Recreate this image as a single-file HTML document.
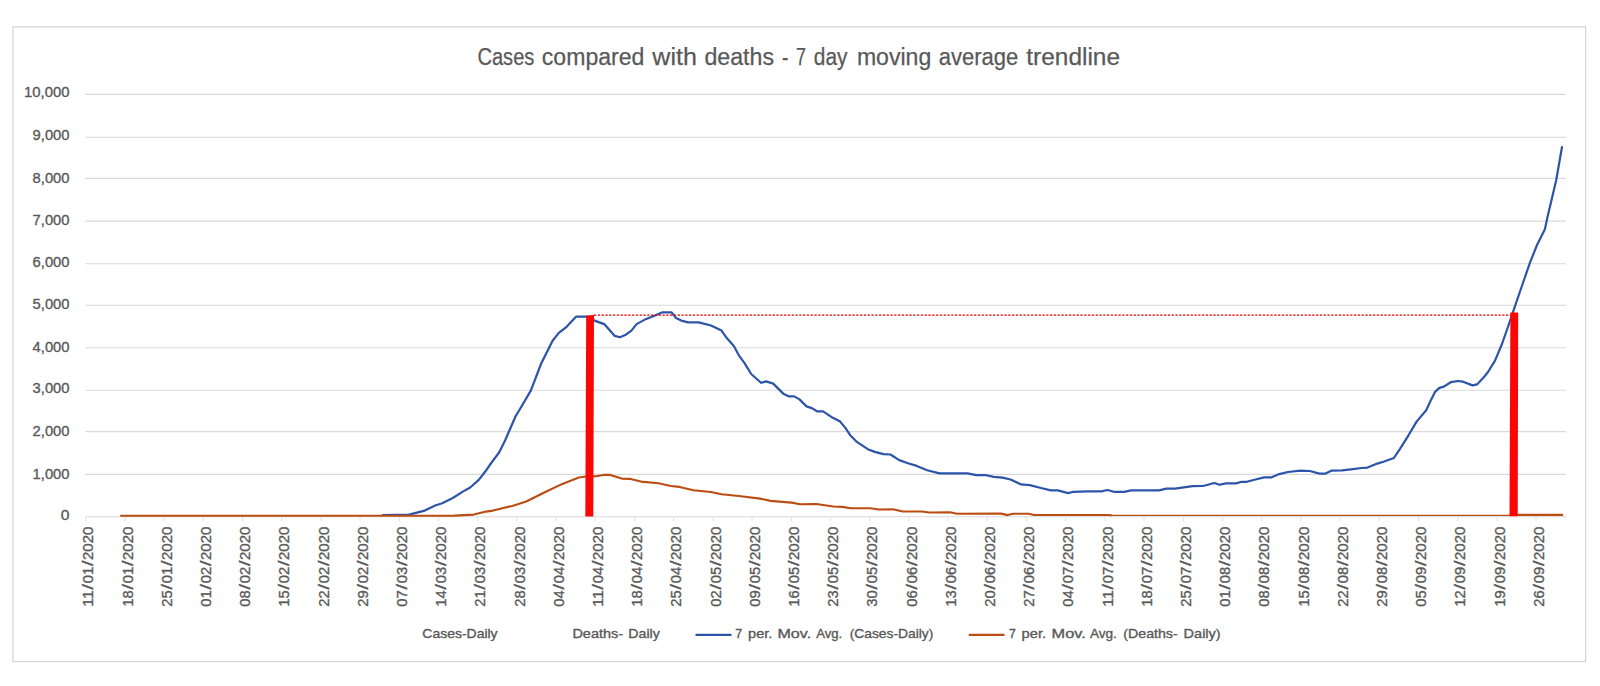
<!DOCTYPE html>
<html lang="en"><head><meta charset="utf-8"><title>Cases compared with deaths - 7 day moving average trendline</title>
<style>
html,body{margin:0;padding:0;background:#fff;}
body{width:1600px;height:686px;overflow:hidden;position:relative;}
svg{display:block;position:absolute;left:0;top:0;}
text{font-family:"Liberation Sans",sans-serif;fill:#595959;stroke:#595959;stroke-width:0.25px;}
.ax{font-size:15.2px;stroke-width:0.35px;}
.lg{font-size:13px;stroke-width:0.35px;}
.xl{font-size:15.2px;stroke-width:0.35px;}
.ttl{font-size:23px;}
</style></head><body>
<svg width="1600" height="686" viewBox="0 0 1600 686">
<rect x="0" y="0" width="1600" height="686" fill="#ffffff"/>
<rect x="12.9" y="26.9" width="1572.7" height="634.6" fill="#ffffff" stroke="#d6d6d6" stroke-width="1.25"/>

<g stroke="#d9d9d9" stroke-width="1.1" fill="none">
<line x1="85.3" y1="474.4" x2="1565.9" y2="474.4"/>
<line x1="85.3" y1="431.6" x2="1565.9" y2="431.6"/>
<line x1="85.3" y1="390.2" x2="1565.9" y2="390.2"/>
<line x1="85.3" y1="347.7" x2="1565.9" y2="347.7"/>
<line x1="85.3" y1="305.3" x2="1565.9" y2="305.3"/>
<line x1="85.3" y1="263.7" x2="1565.9" y2="263.7"/>
<line x1="85.3" y1="221.1" x2="1565.9" y2="221.1"/>
<line x1="85.3" y1="178.4" x2="1565.9" y2="178.4"/>
<line x1="85.3" y1="137.2" x2="1565.9" y2="137.2"/>
<line x1="85.3" y1="94.4" x2="1565.9" y2="94.4"/>
<line x1="85.7" y1="516.8" x2="1565.9" y2="516.8"/>
<line x1="85.7" y1="516.8" x2="85.7" y2="521.3" stroke="#e3e3e3"/>
<line x1="124.9" y1="516.8" x2="124.9" y2="521.3" stroke="#e3e3e3"/>
<line x1="164.1" y1="516.8" x2="164.1" y2="521.3" stroke="#e3e3e3"/>
<line x1="203.3" y1="516.8" x2="203.3" y2="521.3" stroke="#e3e3e3"/>
<line x1="242.5" y1="516.8" x2="242.5" y2="521.3" stroke="#e3e3e3"/>
<line x1="281.7" y1="516.8" x2="281.7" y2="521.3" stroke="#e3e3e3"/>
<line x1="320.9" y1="516.8" x2="320.9" y2="521.3" stroke="#e3e3e3"/>
<line x1="360.1" y1="516.8" x2="360.1" y2="521.3" stroke="#e3e3e3"/>
<line x1="399.3" y1="516.8" x2="399.3" y2="521.3" stroke="#e3e3e3"/>
<line x1="438.5" y1="516.8" x2="438.5" y2="521.3" stroke="#e3e3e3"/>
<line x1="477.7" y1="516.8" x2="477.7" y2="521.3" stroke="#e3e3e3"/>
<line x1="516.9" y1="516.8" x2="516.9" y2="521.3" stroke="#e3e3e3"/>
<line x1="556.1" y1="516.8" x2="556.1" y2="521.3" stroke="#e3e3e3"/>
<line x1="595.3" y1="516.8" x2="595.3" y2="521.3" stroke="#e3e3e3"/>
<line x1="634.5" y1="516.8" x2="634.5" y2="521.3" stroke="#e3e3e3"/>
<line x1="673.7" y1="516.8" x2="673.7" y2="521.3" stroke="#e3e3e3"/>
<line x1="712.9" y1="516.8" x2="712.9" y2="521.3" stroke="#e3e3e3"/>
<line x1="752.1" y1="516.8" x2="752.1" y2="521.3" stroke="#e3e3e3"/>
<line x1="791.3" y1="516.8" x2="791.3" y2="521.3" stroke="#e3e3e3"/>
<line x1="830.5" y1="516.8" x2="830.5" y2="521.3" stroke="#e3e3e3"/>
<line x1="869.7" y1="516.8" x2="869.7" y2="521.3" stroke="#e3e3e3"/>
<line x1="908.9" y1="516.8" x2="908.9" y2="521.3" stroke="#e3e3e3"/>
<line x1="948.1" y1="516.8" x2="948.1" y2="521.3" stroke="#e3e3e3"/>
<line x1="987.3" y1="516.8" x2="987.3" y2="521.3" stroke="#e3e3e3"/>
<line x1="1026.5" y1="516.8" x2="1026.5" y2="521.3" stroke="#e3e3e3"/>
<line x1="1065.7" y1="516.8" x2="1065.7" y2="521.3" stroke="#e3e3e3"/>
<line x1="1104.9" y1="516.8" x2="1104.9" y2="521.3" stroke="#e3e3e3"/>
<line x1="1144.1" y1="516.8" x2="1144.1" y2="521.3" stroke="#e3e3e3"/>
<line x1="1183.3" y1="516.8" x2="1183.3" y2="521.3" stroke="#e3e3e3"/>
<line x1="1222.5" y1="516.8" x2="1222.5" y2="521.3" stroke="#e3e3e3"/>
<line x1="1261.7" y1="516.8" x2="1261.7" y2="521.3" stroke="#e3e3e3"/>
<line x1="1300.9" y1="516.8" x2="1300.9" y2="521.3" stroke="#e3e3e3"/>
<line x1="1340.1" y1="516.8" x2="1340.1" y2="521.3" stroke="#e3e3e3"/>
<line x1="1379.3" y1="516.8" x2="1379.3" y2="521.3" stroke="#e3e3e3"/>
<line x1="1418.5" y1="516.8" x2="1418.5" y2="521.3" stroke="#e3e3e3"/>
<line x1="1457.7" y1="516.8" x2="1457.7" y2="521.3" stroke="#e3e3e3"/>
<line x1="1496.9" y1="516.8" x2="1496.9" y2="521.3" stroke="#e3e3e3"/>
<line x1="1536.1" y1="516.8" x2="1536.1" y2="521.3" stroke="#e3e3e3"/>
</g>
<text class="ax" x="60.8" y="520.0" textLength="8.7" lengthAdjust="spacingAndGlyphs">0</text>
<text class="ax" x="32.6" y="478.6" textLength="36.9" lengthAdjust="spacingAndGlyphs">1,000</text>
<text class="ax" x="32.6" y="435.9" textLength="36.9" lengthAdjust="spacingAndGlyphs">2,000</text>
<text class="ax" x="32.6" y="393.2" textLength="36.9" lengthAdjust="spacingAndGlyphs">3,000</text>
<text class="ax" x="32.6" y="352.0" textLength="36.9" lengthAdjust="spacingAndGlyphs">4,000</text>
<text class="ax" x="32.6" y="309.4" textLength="36.9" lengthAdjust="spacingAndGlyphs">5,000</text>
<text class="ax" x="32.6" y="266.6" textLength="36.9" lengthAdjust="spacingAndGlyphs">6,000</text>
<text class="ax" x="32.6" y="225.3" textLength="36.9" lengthAdjust="spacingAndGlyphs">7,000</text>
<text class="ax" x="32.6" y="182.8" textLength="36.9" lengthAdjust="spacingAndGlyphs">8,000</text>
<text class="ax" x="32.6" y="139.9" textLength="36.9" lengthAdjust="spacingAndGlyphs">9,000</text>
<text class="ax" x="24.1" y="97.3" textLength="45.4" lengthAdjust="spacingAndGlyphs">10,000</text>
<text class="xl" transform="translate(93.4,606.7) rotate(-90)"><tspan x="0" textLength="16.5" lengthAdjust="spacingAndGlyphs">11</tspan><tspan x="17.3" textLength="5.5" lengthAdjust="spacingAndGlyphs">/</tspan><tspan x="23.4" textLength="16.5" lengthAdjust="spacingAndGlyphs">01</tspan><tspan x="40.6" textLength="5.5" lengthAdjust="spacingAndGlyphs">/</tspan><tspan x="46.7" textLength="33.3" lengthAdjust="spacingAndGlyphs">2020</tspan></text>
<text class="xl" transform="translate(132.6,606.7) rotate(-90)"><tspan x="0" textLength="16.5" lengthAdjust="spacingAndGlyphs">18</tspan><tspan x="17.3" textLength="5.5" lengthAdjust="spacingAndGlyphs">/</tspan><tspan x="23.4" textLength="16.5" lengthAdjust="spacingAndGlyphs">01</tspan><tspan x="40.6" textLength="5.5" lengthAdjust="spacingAndGlyphs">/</tspan><tspan x="46.7" textLength="33.3" lengthAdjust="spacingAndGlyphs">2020</tspan></text>
<text class="xl" transform="translate(171.8,606.7) rotate(-90)"><tspan x="0" textLength="16.5" lengthAdjust="spacingAndGlyphs">25</tspan><tspan x="17.3" textLength="5.5" lengthAdjust="spacingAndGlyphs">/</tspan><tspan x="23.4" textLength="16.5" lengthAdjust="spacingAndGlyphs">01</tspan><tspan x="40.6" textLength="5.5" lengthAdjust="spacingAndGlyphs">/</tspan><tspan x="46.7" textLength="33.3" lengthAdjust="spacingAndGlyphs">2020</tspan></text>
<text class="xl" transform="translate(211.0,606.7) rotate(-90)"><tspan x="0" textLength="16.5" lengthAdjust="spacingAndGlyphs">01</tspan><tspan x="17.3" textLength="5.5" lengthAdjust="spacingAndGlyphs">/</tspan><tspan x="23.4" textLength="16.5" lengthAdjust="spacingAndGlyphs">02</tspan><tspan x="40.6" textLength="5.5" lengthAdjust="spacingAndGlyphs">/</tspan><tspan x="46.7" textLength="33.3" lengthAdjust="spacingAndGlyphs">2020</tspan></text>
<text class="xl" transform="translate(250.2,606.7) rotate(-90)"><tspan x="0" textLength="16.5" lengthAdjust="spacingAndGlyphs">08</tspan><tspan x="17.3" textLength="5.5" lengthAdjust="spacingAndGlyphs">/</tspan><tspan x="23.4" textLength="16.5" lengthAdjust="spacingAndGlyphs">02</tspan><tspan x="40.6" textLength="5.5" lengthAdjust="spacingAndGlyphs">/</tspan><tspan x="46.7" textLength="33.3" lengthAdjust="spacingAndGlyphs">2020</tspan></text>
<text class="xl" transform="translate(289.4,606.7) rotate(-90)"><tspan x="0" textLength="16.5" lengthAdjust="spacingAndGlyphs">15</tspan><tspan x="17.3" textLength="5.5" lengthAdjust="spacingAndGlyphs">/</tspan><tspan x="23.4" textLength="16.5" lengthAdjust="spacingAndGlyphs">02</tspan><tspan x="40.6" textLength="5.5" lengthAdjust="spacingAndGlyphs">/</tspan><tspan x="46.7" textLength="33.3" lengthAdjust="spacingAndGlyphs">2020</tspan></text>
<text class="xl" transform="translate(328.6,606.7) rotate(-90)"><tspan x="0" textLength="16.5" lengthAdjust="spacingAndGlyphs">22</tspan><tspan x="17.3" textLength="5.5" lengthAdjust="spacingAndGlyphs">/</tspan><tspan x="23.4" textLength="16.5" lengthAdjust="spacingAndGlyphs">02</tspan><tspan x="40.6" textLength="5.5" lengthAdjust="spacingAndGlyphs">/</tspan><tspan x="46.7" textLength="33.3" lengthAdjust="spacingAndGlyphs">2020</tspan></text>
<text class="xl" transform="translate(367.8,606.7) rotate(-90)"><tspan x="0" textLength="16.5" lengthAdjust="spacingAndGlyphs">29</tspan><tspan x="17.3" textLength="5.5" lengthAdjust="spacingAndGlyphs">/</tspan><tspan x="23.4" textLength="16.5" lengthAdjust="spacingAndGlyphs">02</tspan><tspan x="40.6" textLength="5.5" lengthAdjust="spacingAndGlyphs">/</tspan><tspan x="46.7" textLength="33.3" lengthAdjust="spacingAndGlyphs">2020</tspan></text>
<text class="xl" transform="translate(407.0,606.7) rotate(-90)"><tspan x="0" textLength="16.5" lengthAdjust="spacingAndGlyphs">07</tspan><tspan x="17.3" textLength="5.5" lengthAdjust="spacingAndGlyphs">/</tspan><tspan x="23.4" textLength="16.5" lengthAdjust="spacingAndGlyphs">03</tspan><tspan x="40.6" textLength="5.5" lengthAdjust="spacingAndGlyphs">/</tspan><tspan x="46.7" textLength="33.3" lengthAdjust="spacingAndGlyphs">2020</tspan></text>
<text class="xl" transform="translate(446.2,606.7) rotate(-90)"><tspan x="0" textLength="16.5" lengthAdjust="spacingAndGlyphs">14</tspan><tspan x="17.3" textLength="5.5" lengthAdjust="spacingAndGlyphs">/</tspan><tspan x="23.4" textLength="16.5" lengthAdjust="spacingAndGlyphs">03</tspan><tspan x="40.6" textLength="5.5" lengthAdjust="spacingAndGlyphs">/</tspan><tspan x="46.7" textLength="33.3" lengthAdjust="spacingAndGlyphs">2020</tspan></text>
<text class="xl" transform="translate(485.4,606.7) rotate(-90)"><tspan x="0" textLength="16.5" lengthAdjust="spacingAndGlyphs">21</tspan><tspan x="17.3" textLength="5.5" lengthAdjust="spacingAndGlyphs">/</tspan><tspan x="23.4" textLength="16.5" lengthAdjust="spacingAndGlyphs">03</tspan><tspan x="40.6" textLength="5.5" lengthAdjust="spacingAndGlyphs">/</tspan><tspan x="46.7" textLength="33.3" lengthAdjust="spacingAndGlyphs">2020</tspan></text>
<text class="xl" transform="translate(524.6,606.7) rotate(-90)"><tspan x="0" textLength="16.5" lengthAdjust="spacingAndGlyphs">28</tspan><tspan x="17.3" textLength="5.5" lengthAdjust="spacingAndGlyphs">/</tspan><tspan x="23.4" textLength="16.5" lengthAdjust="spacingAndGlyphs">03</tspan><tspan x="40.6" textLength="5.5" lengthAdjust="spacingAndGlyphs">/</tspan><tspan x="46.7" textLength="33.3" lengthAdjust="spacingAndGlyphs">2020</tspan></text>
<text class="xl" transform="translate(563.8,606.7) rotate(-90)"><tspan x="0" textLength="16.5" lengthAdjust="spacingAndGlyphs">04</tspan><tspan x="17.3" textLength="5.5" lengthAdjust="spacingAndGlyphs">/</tspan><tspan x="23.4" textLength="16.5" lengthAdjust="spacingAndGlyphs">04</tspan><tspan x="40.6" textLength="5.5" lengthAdjust="spacingAndGlyphs">/</tspan><tspan x="46.7" textLength="33.3" lengthAdjust="spacingAndGlyphs">2020</tspan></text>
<text class="xl" transform="translate(603.0,606.7) rotate(-90)"><tspan x="0" textLength="16.5" lengthAdjust="spacingAndGlyphs">11</tspan><tspan x="17.3" textLength="5.5" lengthAdjust="spacingAndGlyphs">/</tspan><tspan x="23.4" textLength="16.5" lengthAdjust="spacingAndGlyphs">04</tspan><tspan x="40.6" textLength="5.5" lengthAdjust="spacingAndGlyphs">/</tspan><tspan x="46.7" textLength="33.3" lengthAdjust="spacingAndGlyphs">2020</tspan></text>
<text class="xl" transform="translate(642.2,606.7) rotate(-90)"><tspan x="0" textLength="16.5" lengthAdjust="spacingAndGlyphs">18</tspan><tspan x="17.3" textLength="5.5" lengthAdjust="spacingAndGlyphs">/</tspan><tspan x="23.4" textLength="16.5" lengthAdjust="spacingAndGlyphs">04</tspan><tspan x="40.6" textLength="5.5" lengthAdjust="spacingAndGlyphs">/</tspan><tspan x="46.7" textLength="33.3" lengthAdjust="spacingAndGlyphs">2020</tspan></text>
<text class="xl" transform="translate(681.4,606.7) rotate(-90)"><tspan x="0" textLength="16.5" lengthAdjust="spacingAndGlyphs">25</tspan><tspan x="17.3" textLength="5.5" lengthAdjust="spacingAndGlyphs">/</tspan><tspan x="23.4" textLength="16.5" lengthAdjust="spacingAndGlyphs">04</tspan><tspan x="40.6" textLength="5.5" lengthAdjust="spacingAndGlyphs">/</tspan><tspan x="46.7" textLength="33.3" lengthAdjust="spacingAndGlyphs">2020</tspan></text>
<text class="xl" transform="translate(720.6,606.7) rotate(-90)"><tspan x="0" textLength="16.5" lengthAdjust="spacingAndGlyphs">02</tspan><tspan x="17.3" textLength="5.5" lengthAdjust="spacingAndGlyphs">/</tspan><tspan x="23.4" textLength="16.5" lengthAdjust="spacingAndGlyphs">05</tspan><tspan x="40.6" textLength="5.5" lengthAdjust="spacingAndGlyphs">/</tspan><tspan x="46.7" textLength="33.3" lengthAdjust="spacingAndGlyphs">2020</tspan></text>
<text class="xl" transform="translate(759.8,606.7) rotate(-90)"><tspan x="0" textLength="16.5" lengthAdjust="spacingAndGlyphs">09</tspan><tspan x="17.3" textLength="5.5" lengthAdjust="spacingAndGlyphs">/</tspan><tspan x="23.4" textLength="16.5" lengthAdjust="spacingAndGlyphs">05</tspan><tspan x="40.6" textLength="5.5" lengthAdjust="spacingAndGlyphs">/</tspan><tspan x="46.7" textLength="33.3" lengthAdjust="spacingAndGlyphs">2020</tspan></text>
<text class="xl" transform="translate(799.0,606.7) rotate(-90)"><tspan x="0" textLength="16.5" lengthAdjust="spacingAndGlyphs">16</tspan><tspan x="17.3" textLength="5.5" lengthAdjust="spacingAndGlyphs">/</tspan><tspan x="23.4" textLength="16.5" lengthAdjust="spacingAndGlyphs">05</tspan><tspan x="40.6" textLength="5.5" lengthAdjust="spacingAndGlyphs">/</tspan><tspan x="46.7" textLength="33.3" lengthAdjust="spacingAndGlyphs">2020</tspan></text>
<text class="xl" transform="translate(838.2,606.7) rotate(-90)"><tspan x="0" textLength="16.5" lengthAdjust="spacingAndGlyphs">23</tspan><tspan x="17.3" textLength="5.5" lengthAdjust="spacingAndGlyphs">/</tspan><tspan x="23.4" textLength="16.5" lengthAdjust="spacingAndGlyphs">05</tspan><tspan x="40.6" textLength="5.5" lengthAdjust="spacingAndGlyphs">/</tspan><tspan x="46.7" textLength="33.3" lengthAdjust="spacingAndGlyphs">2020</tspan></text>
<text class="xl" transform="translate(877.4,606.7) rotate(-90)"><tspan x="0" textLength="16.5" lengthAdjust="spacingAndGlyphs">30</tspan><tspan x="17.3" textLength="5.5" lengthAdjust="spacingAndGlyphs">/</tspan><tspan x="23.4" textLength="16.5" lengthAdjust="spacingAndGlyphs">05</tspan><tspan x="40.6" textLength="5.5" lengthAdjust="spacingAndGlyphs">/</tspan><tspan x="46.7" textLength="33.3" lengthAdjust="spacingAndGlyphs">2020</tspan></text>
<text class="xl" transform="translate(916.6,606.7) rotate(-90)"><tspan x="0" textLength="16.5" lengthAdjust="spacingAndGlyphs">06</tspan><tspan x="17.3" textLength="5.5" lengthAdjust="spacingAndGlyphs">/</tspan><tspan x="23.4" textLength="16.5" lengthAdjust="spacingAndGlyphs">06</tspan><tspan x="40.6" textLength="5.5" lengthAdjust="spacingAndGlyphs">/</tspan><tspan x="46.7" textLength="33.3" lengthAdjust="spacingAndGlyphs">2020</tspan></text>
<text class="xl" transform="translate(955.8,606.7) rotate(-90)"><tspan x="0" textLength="16.5" lengthAdjust="spacingAndGlyphs">13</tspan><tspan x="17.3" textLength="5.5" lengthAdjust="spacingAndGlyphs">/</tspan><tspan x="23.4" textLength="16.5" lengthAdjust="spacingAndGlyphs">06</tspan><tspan x="40.6" textLength="5.5" lengthAdjust="spacingAndGlyphs">/</tspan><tspan x="46.7" textLength="33.3" lengthAdjust="spacingAndGlyphs">2020</tspan></text>
<text class="xl" transform="translate(995.0,606.7) rotate(-90)"><tspan x="0" textLength="16.5" lengthAdjust="spacingAndGlyphs">20</tspan><tspan x="17.3" textLength="5.5" lengthAdjust="spacingAndGlyphs">/</tspan><tspan x="23.4" textLength="16.5" lengthAdjust="spacingAndGlyphs">06</tspan><tspan x="40.6" textLength="5.5" lengthAdjust="spacingAndGlyphs">/</tspan><tspan x="46.7" textLength="33.3" lengthAdjust="spacingAndGlyphs">2020</tspan></text>
<text class="xl" transform="translate(1034.2,606.7) rotate(-90)"><tspan x="0" textLength="16.5" lengthAdjust="spacingAndGlyphs">27</tspan><tspan x="17.3" textLength="5.5" lengthAdjust="spacingAndGlyphs">/</tspan><tspan x="23.4" textLength="16.5" lengthAdjust="spacingAndGlyphs">06</tspan><tspan x="40.6" textLength="5.5" lengthAdjust="spacingAndGlyphs">/</tspan><tspan x="46.7" textLength="33.3" lengthAdjust="spacingAndGlyphs">2020</tspan></text>
<text class="xl" transform="translate(1073.4,606.7) rotate(-90)"><tspan x="0" textLength="16.5" lengthAdjust="spacingAndGlyphs">04</tspan><tspan x="17.3" textLength="5.5" lengthAdjust="spacingAndGlyphs">/</tspan><tspan x="23.4" textLength="16.5" lengthAdjust="spacingAndGlyphs">07</tspan><tspan x="40.6" textLength="5.5" lengthAdjust="spacingAndGlyphs">/</tspan><tspan x="46.7" textLength="33.3" lengthAdjust="spacingAndGlyphs">2020</tspan></text>
<text class="xl" transform="translate(1112.6,606.7) rotate(-90)"><tspan x="0" textLength="16.5" lengthAdjust="spacingAndGlyphs">11</tspan><tspan x="17.3" textLength="5.5" lengthAdjust="spacingAndGlyphs">/</tspan><tspan x="23.4" textLength="16.5" lengthAdjust="spacingAndGlyphs">07</tspan><tspan x="40.6" textLength="5.5" lengthAdjust="spacingAndGlyphs">/</tspan><tspan x="46.7" textLength="33.3" lengthAdjust="spacingAndGlyphs">2020</tspan></text>
<text class="xl" transform="translate(1151.8,606.7) rotate(-90)"><tspan x="0" textLength="16.5" lengthAdjust="spacingAndGlyphs">18</tspan><tspan x="17.3" textLength="5.5" lengthAdjust="spacingAndGlyphs">/</tspan><tspan x="23.4" textLength="16.5" lengthAdjust="spacingAndGlyphs">07</tspan><tspan x="40.6" textLength="5.5" lengthAdjust="spacingAndGlyphs">/</tspan><tspan x="46.7" textLength="33.3" lengthAdjust="spacingAndGlyphs">2020</tspan></text>
<text class="xl" transform="translate(1191.0,606.7) rotate(-90)"><tspan x="0" textLength="16.5" lengthAdjust="spacingAndGlyphs">25</tspan><tspan x="17.3" textLength="5.5" lengthAdjust="spacingAndGlyphs">/</tspan><tspan x="23.4" textLength="16.5" lengthAdjust="spacingAndGlyphs">07</tspan><tspan x="40.6" textLength="5.5" lengthAdjust="spacingAndGlyphs">/</tspan><tspan x="46.7" textLength="33.3" lengthAdjust="spacingAndGlyphs">2020</tspan></text>
<text class="xl" transform="translate(1230.2,606.7) rotate(-90)"><tspan x="0" textLength="16.5" lengthAdjust="spacingAndGlyphs">01</tspan><tspan x="17.3" textLength="5.5" lengthAdjust="spacingAndGlyphs">/</tspan><tspan x="23.4" textLength="16.5" lengthAdjust="spacingAndGlyphs">08</tspan><tspan x="40.6" textLength="5.5" lengthAdjust="spacingAndGlyphs">/</tspan><tspan x="46.7" textLength="33.3" lengthAdjust="spacingAndGlyphs">2020</tspan></text>
<text class="xl" transform="translate(1269.4,606.7) rotate(-90)"><tspan x="0" textLength="16.5" lengthAdjust="spacingAndGlyphs">08</tspan><tspan x="17.3" textLength="5.5" lengthAdjust="spacingAndGlyphs">/</tspan><tspan x="23.4" textLength="16.5" lengthAdjust="spacingAndGlyphs">08</tspan><tspan x="40.6" textLength="5.5" lengthAdjust="spacingAndGlyphs">/</tspan><tspan x="46.7" textLength="33.3" lengthAdjust="spacingAndGlyphs">2020</tspan></text>
<text class="xl" transform="translate(1308.6,606.7) rotate(-90)"><tspan x="0" textLength="16.5" lengthAdjust="spacingAndGlyphs">15</tspan><tspan x="17.3" textLength="5.5" lengthAdjust="spacingAndGlyphs">/</tspan><tspan x="23.4" textLength="16.5" lengthAdjust="spacingAndGlyphs">08</tspan><tspan x="40.6" textLength="5.5" lengthAdjust="spacingAndGlyphs">/</tspan><tspan x="46.7" textLength="33.3" lengthAdjust="spacingAndGlyphs">2020</tspan></text>
<text class="xl" transform="translate(1347.8,606.7) rotate(-90)"><tspan x="0" textLength="16.5" lengthAdjust="spacingAndGlyphs">22</tspan><tspan x="17.3" textLength="5.5" lengthAdjust="spacingAndGlyphs">/</tspan><tspan x="23.4" textLength="16.5" lengthAdjust="spacingAndGlyphs">08</tspan><tspan x="40.6" textLength="5.5" lengthAdjust="spacingAndGlyphs">/</tspan><tspan x="46.7" textLength="33.3" lengthAdjust="spacingAndGlyphs">2020</tspan></text>
<text class="xl" transform="translate(1387.0,606.7) rotate(-90)"><tspan x="0" textLength="16.5" lengthAdjust="spacingAndGlyphs">29</tspan><tspan x="17.3" textLength="5.5" lengthAdjust="spacingAndGlyphs">/</tspan><tspan x="23.4" textLength="16.5" lengthAdjust="spacingAndGlyphs">08</tspan><tspan x="40.6" textLength="5.5" lengthAdjust="spacingAndGlyphs">/</tspan><tspan x="46.7" textLength="33.3" lengthAdjust="spacingAndGlyphs">2020</tspan></text>
<text class="xl" transform="translate(1426.2,606.7) rotate(-90)"><tspan x="0" textLength="16.5" lengthAdjust="spacingAndGlyphs">05</tspan><tspan x="17.3" textLength="5.5" lengthAdjust="spacingAndGlyphs">/</tspan><tspan x="23.4" textLength="16.5" lengthAdjust="spacingAndGlyphs">09</tspan><tspan x="40.6" textLength="5.5" lengthAdjust="spacingAndGlyphs">/</tspan><tspan x="46.7" textLength="33.3" lengthAdjust="spacingAndGlyphs">2020</tspan></text>
<text class="xl" transform="translate(1465.4,606.7) rotate(-90)"><tspan x="0" textLength="16.5" lengthAdjust="spacingAndGlyphs">12</tspan><tspan x="17.3" textLength="5.5" lengthAdjust="spacingAndGlyphs">/</tspan><tspan x="23.4" textLength="16.5" lengthAdjust="spacingAndGlyphs">09</tspan><tspan x="40.6" textLength="5.5" lengthAdjust="spacingAndGlyphs">/</tspan><tspan x="46.7" textLength="33.3" lengthAdjust="spacingAndGlyphs">2020</tspan></text>
<text class="xl" transform="translate(1504.6,606.7) rotate(-90)"><tspan x="0" textLength="16.5" lengthAdjust="spacingAndGlyphs">19</tspan><tspan x="17.3" textLength="5.5" lengthAdjust="spacingAndGlyphs">/</tspan><tspan x="23.4" textLength="16.5" lengthAdjust="spacingAndGlyphs">09</tspan><tspan x="40.6" textLength="5.5" lengthAdjust="spacingAndGlyphs">/</tspan><tspan x="46.7" textLength="33.3" lengthAdjust="spacingAndGlyphs">2020</tspan></text>
<text class="xl" transform="translate(1543.8,606.7) rotate(-90)"><tspan x="0" textLength="16.5" lengthAdjust="spacingAndGlyphs">26</tspan><tspan x="17.3" textLength="5.5" lengthAdjust="spacingAndGlyphs">/</tspan><tspan x="23.4" textLength="16.5" lengthAdjust="spacingAndGlyphs">09</tspan><tspan x="40.6" textLength="5.5" lengthAdjust="spacingAndGlyphs">/</tspan><tspan x="46.7" textLength="33.3" lengthAdjust="spacingAndGlyphs">2020</tspan></text>
<text class="ttl" y="64.6"><tspan x="477.4" textLength="57.0" lengthAdjust="spacingAndGlyphs">Cases</tspan> <tspan x="541.8" textLength="102.6" lengthAdjust="spacingAndGlyphs">compared</tspan> <tspan x="652.3" textLength="44.6" lengthAdjust="spacingAndGlyphs">with</tspan> <tspan x="704.4" textLength="69.7" lengthAdjust="spacingAndGlyphs">deaths</tspan> <tspan x="781.9" textLength="6.4" lengthAdjust="spacingAndGlyphs">-</tspan> <tspan x="796" textLength="9.9" lengthAdjust="spacingAndGlyphs">7</tspan> <tspan x="813.8" textLength="33.6" lengthAdjust="spacingAndGlyphs">day</tspan> <tspan x="856.9" textLength="74.4" lengthAdjust="spacingAndGlyphs">moving</tspan> <tspan x="938.75" textLength="79.6" lengthAdjust="spacingAndGlyphs">average</tspan> <tspan x="1026.3" textLength="93.7" lengthAdjust="spacingAndGlyphs">trendline</tspan></text>
<path d="M382.8,515.0 L409.0,514.6 L424.8,510.6 L435.2,505.5 L442.2,503.2 L452.8,498.0 L463.2,491.4 L470.2,487.5 L479.0,479.6 L485.1,471.8 L491.2,463.0 L499.1,452.5 L505.2,440.2 L510.5,428.0 L515.8,415.8 L519.4,410.0 L530.8,390.6 L541.2,363.5 L552.6,340.8 L558.8,332.9 L566.6,326.8 L576.2,316.6 L586.8,316.6 L594.6,320.6 L604.2,324.1 L610.4,331.1 L614.8,335.9 L620.0,337.2 L625.2,335.1 L631.4,330.6 L636.6,324.1 L646.2,318.9 L655.0,315.4 L662.0,312.4 L671.6,312.4 L676.0,318.0 L681.2,320.6 L688.2,322.4 L698.8,322.4 L711.0,325.5 L721.5,330.6 L726.8,338.1 L733.8,346.0 L739.0,355.6 L744.2,362.6 L751.2,374.0 L761.0,382.8 L766.2,381.4 L773.2,383.6 L783.8,394.1 L789.0,396.4 L794.2,396.4 L799.5,399.4 L806.5,406.4 L811.8,408.1 L817.0,411.3 L823.1,411.3 L832.8,417.8 L839.8,421.2 L845.0,427.4 L850.2,435.2 L857.2,442.2 L867.8,449.2 L874.8,451.9 L883.5,454.1 L890.5,454.5 L899.2,460.1 L908.0,463.2 L916.8,465.9 L927.2,470.2 L939.5,473.4 L953.5,473.4 L967.5,473.4 L976.2,475.1 L985.0,475.0 L993.8,476.9 L1002.5,477.6 L1010.5,479.5 L1021.0,484.4 L1029.8,485.1 L1042.0,488.2 L1050.8,490.4 L1057.8,490.4 L1068.2,493.1 L1073.5,491.8 L1087.5,491.4 L1101.5,491.4 L1107.6,490.0 L1113.8,491.8 L1124.2,491.8 L1131.2,490.4 L1145.2,490.4 L1159.2,490.4 L1166.2,488.6 L1175.0,488.6 L1183.8,487.4 L1192.5,486.1 L1203.0,486.0 L1214.4,483.0 L1219.6,484.8 L1225.8,483.4 L1236.2,483.4 L1241.5,481.8 L1246.8,481.8 L1255.5,479.5 L1264.2,477.4 L1271.2,477.4 L1279.2,474.1 L1288.0,472.0 L1300.2,470.6 L1309.9,471.0 L1319.5,473.6 L1325.6,473.6 L1331.8,470.6 L1342.2,470.4 L1351.0,469.4 L1361.5,468.0 L1367.6,467.6 L1377.2,463.6 L1384.2,461.5 L1393.9,458.0 L1400.0,448.8 L1408.8,434.8 L1416.6,421.6 L1426.2,410.2 L1431.5,398.9 L1435.0,391.9 L1439.4,387.9 L1443.8,386.6 L1450.8,382.2 L1457.8,381.0 L1463.0,381.7 L1472.6,385.4 L1477.0,384.4 L1484.0,377.0 L1488.0,372.0 L1495.0,360.6 L1502.0,344.0 L1508.1,326.5 L1513.4,310.8 L1521.2,288.0 L1530.0,262.6 L1537.0,245.0 L1544.9,229.2 L1547.5,217.0 L1556.2,180.2 L1562.0,147.0" fill="none" stroke="#2c54a8" stroke-width="2.2" stroke-linejoin="round" stroke-linecap="round"/>
<path d="M1109.0,515.4 L1511.0,515.4" fill="none" stroke="#bb4c12" stroke-width="1.35"/>
<path d="M121.0,515.8 L454.5,515.6 L473.8,514.6 L486.0,511.6 L493.0,510.6 L512.2,505.9 L526.2,501.5 L543.8,492.8 L561.2,484.4 L578.8,477.5 L587.5,476.3 L596.2,476.3 L605.0,474.7 L610.2,474.9 L622.5,478.8 L630.5,478.9 L641.0,481.6 L658.5,483.2 L670.8,486.0 L679.5,486.9 L693.5,490.2 L711.0,492.0 L721.5,494.2 L739.0,496.0 L760.0,498.6 L770.5,500.9 L791.5,502.6 L800.2,504.2 L816.0,504.0 L833.5,506.5 L842.2,506.9 L851.0,508.2 L870.2,508.2 L879.0,509.5 L894.0,509.4 L902.8,511.5 L922.0,511.5 L929.0,512.5 L950.0,512.2 L957.0,513.8 L1000.8,513.6 L1007.8,515.1 L1013.0,513.8 L1028.8,513.8 L1034.0,515.0 L1107.5,515.0 L1111.0,515.3" fill="none" stroke="#bb4c12" stroke-width="2.1" stroke-linejoin="round" stroke-linecap="round"/>
<path d="M1516.0,514.9 L1562.0,514.9" fill="none" stroke="#bb4c12" stroke-width="2.4" stroke-linecap="round"/>
<line x1="594" y1="315" x2="1511" y2="315" stroke="#e00000" stroke-width="1.25" stroke-dasharray="2.3 1.5"/>
<polygon points="585.3,516.6 593.3,516.6 594,315 586.2,315.6" fill="#fb0505"/>
<polygon points="1509.5,516.2 1517.7,516.2 1518.2,312.6 1510.4,312.6" fill="#fb0505"/>
<line x1="695.5" y1="634.9" x2="731.5" y2="634.9" stroke="#2c54a8" stroke-width="2.3"/>
<text class="lg" y="638.3"><tspan x="422.3" textLength="75.3" lengthAdjust="spacingAndGlyphs">Cases-Daily</tspan></text>
<text class="lg" y="638.3"><tspan x="572.4" textLength="50.7" lengthAdjust="spacingAndGlyphs">Deaths-</tspan> <tspan x="628.3" textLength="31.5" lengthAdjust="spacingAndGlyphs">Daily</tspan></text>
<text class="lg" y="638.3"><tspan x="735.3" textLength="7.0" lengthAdjust="spacingAndGlyphs">7</tspan> <tspan x="748.1" textLength="24.2" lengthAdjust="spacingAndGlyphs">per.</tspan> <tspan x="777.5" textLength="33.6" lengthAdjust="spacingAndGlyphs">Mov.</tspan> <tspan x="816.25" textLength="26.0" lengthAdjust="spacingAndGlyphs">Avg.</tspan> <tspan x="849.7" textLength="83.7" lengthAdjust="spacingAndGlyphs">(Cases-Daily)</tspan></text>
<line x1="968.8" y1="634.9" x2="1004.5" y2="634.9" stroke="#bb4c12" stroke-width="2.4"/>
<text class="lg" y="638.3"><tspan x="1008.9" textLength="6.8" lengthAdjust="spacingAndGlyphs">7</tspan> <tspan x="1021.6" textLength="24.5" lengthAdjust="spacingAndGlyphs">per.</tspan> <tspan x="1051.6" textLength="34.1" lengthAdjust="spacingAndGlyphs">Mov.</tspan> <tspan x="1089.9" textLength="27.0" lengthAdjust="spacingAndGlyphs">Avg.</tspan> <tspan x="1123.3" textLength="54.4" lengthAdjust="spacingAndGlyphs">(Deaths-</tspan> <tspan x="1183.6" textLength="37.1" lengthAdjust="spacingAndGlyphs">Daily)</tspan></text>
</svg></body></html>
